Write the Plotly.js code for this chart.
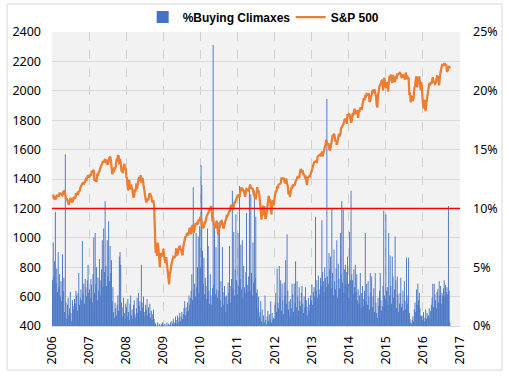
<!DOCTYPE html>
<html><head><meta charset="utf-8">
<script src="https://cdn.plot.ly/plotly-3.0.1.min.js"></script>
<style>html,body{margin:0;padding:0;background:#fff}#chart{width:508px;height:378px}</style>
</head><body><div id="chart"></div>
<script>
// Weekly observations, first week ending 2006-01-06
const firstWeek = '2006-01-06';

// S&P 500 weekly close (left axis)
const sp500 = [
// 2006
1285,1287,1262,1284,1264,1266,1288,1289,1287,1282,1307,1302,1295,1297,1289,1311,1310,1325,1292,1261,1268,1252,1253,1223,1244,1270,1265,1246,1240,1260,1279,1272,1266,1302,1295,1303,1299,1319,1314,1339,1349,1366,1368,1377,1364,1380,1401,1400,1396,1409,1427,1418,
// 2007
1410,1431,1422,1449,1448,1456,1460,1387,1402,1387,1386,1436,1421,1444,1452,1470,1494,1495,1505,1522,1515,1530,1536,1507,1532,1502,1503,1530,1552,1553,1534,1459,1433,1453,1445,1479,1473,1484,1528,1526,1557,1561,1500,1536,1510,1453,1458,1440,1481,1504,1467,1478,
// 2008
1411,1401,1325,1330,1395,1331,1349,1353,1331,1294,1273,1288,1330,1315,1370,1332,1390,1398,1413,1388,1426,1375,1400,1404,1360,1318,1278,1262,1240,1260,1257,1260,1296,1298,1292,1283,1242,1252,1255,1213,1099,899,940,877,968,930,873,800,896,876,879,888,
// 2009
927,870,850,826,869,827,770,735,683,757,769,815,842,857,870,866,867,877,929,882,887,919,940,946,921,918,896,880,940,979,987,1010,1005,1026,1029,1016,1042,1068,1044,1025,1071,1087,1080,1036,1069,1093,1091,1092,1106,1102,1127,1115,
// 2010
1144,1136,1092,1073,1066,1075,1109,1105,1139,1150,1159,1167,1178,1194,1192,1217,1187,1111,1136,1088,1087,1064,1092,1117,1076,1022,1078,1065,1103,1101,1121,1079,1071,1065,1104,1110,1125,1148,1146,1165,1176,1183,1183,1225,1199,1199,1190,1224,1240,1243,1256,1258,
// 2011
1272,1293,1283,1276,1310,1329,1343,1320,1328,1321,1304,1279,1313,1332,1328,1320,1320,1338,1363,1340,1338,1333,1331,1300,1271,1271,1268,1340,1344,1316,1316,1292,1199,1179,1123,1177,1219,1154,1216,1136,1131,1155,1224,1238,1285,1253,1263,1216,1159,1244,1255,1219,
// 2012
1277,1289,1315,1316,1344,1342,1361,1366,1370,1370,1404,1404,1397,1408,1398,1370,1378,1403,1369,1353,1295,1318,1278,1325,1343,1335,1362,1354,1356,1362,1385,1391,1406,1419,1411,1407,1438,1466,1460,1441,1460,1428,1433,1411,1414,1380,1359,1409,1416,1418,1413,1430,
// 2013
1461,1472,1486,1503,1513,1518,1520,1516,1515,1552,1556,1557,1563,1569,1553,1588,1555,1582,1597,1614,1633,1667,1650,1631,1643,1626,1593,1606,1632,1680,1692,1691,1709,1691,1655,1663,1633,1655,1688,1709,1691,1703,1744,1759,1762,1770,1798,1805,1806,1805,1775,1841,
// 2014
1831,1842,1838,1790,1783,1797,1838,1836,1859,1878,1841,1866,1857,1865,1815,1864,1863,1881,1878,1877,1900,1924,1949,1936,1963,1961,1985,1967,1978,1978,1925,1931,1955,1988,1997,2007,1985,2010,1982,1967,1906,1886,1964,2018,2031,2039,2063,2068,2075,2003,2071,2088,
// 2015
2044,2019,2051,2057,1995,2055,2096,2097,2110,2071,2053,2108,2061,2068,2067,2102,2081,2117,2108,2116,2122,2126,2107,2092,2094,2110,2101,2077,2076,2126,2079,2104,2078,2092,1971,1989,1921,1961,1958,1931,1951,2014,2033,2075,2099,2023,2089,2090,2092,2012,2005,2061,
// 2016
1922,1921,1880,1940,1880,1865,1918,1948,1999,2022,2050,2035,2060,2047,2081,2092,2065,2057,2047,2053,2099,2099,2096,2071,2037,2103,2130,2162,2175,2173,2183,2184,2183,2169,2180,2128,2139,2165,2168,2153
];

// % of stocks with buying climaxes, weekly (right axis)
const buyingClimaxPct = [
// 2006
3.9,7.1,4.2,5.5,9.7,3.6,4.9,2.9,6.3,3.3,4.4,2.5,3.8,2.1,6.1,3.0,4.1,1.2,14.6,2.0,0.6,1.8,2.4,0.9,1.5,2.9,1.1,0.4,2.2,1.7,1.4,2.3,1.9,3.0,2.6,1.3,2.8,4.5,1.8,2.4,3.1,2.2,7.2,2.7,3.6,1.9,4.0,3.3,2.5,3.9,5.2,2.8,
// 2007
3.1,2.4,4.0,3.5,2.0,4.4,7.5,2.8,7.9,3.6,5.0,2.2,4.1,3.0,5.7,2.6,3.9,4.8,7.3,3.3,8.3,4.6,10.6,5.1,3.4,7.3,4.2,8.9,3.8,6.8,4.5,5.6,2.1,3.3,1.2,0.7,2.0,1.5,0.9,1.8,2.6,1.3,5.9,6.3,5.2,2.0,0.8,1.6,2.4,1.1,0.6,1.9,
// 2008
1.6,0.8,2.3,1.2,0.5,1.9,2.6,0.9,1.4,0.6,1.8,2.2,1.0,0.7,1.5,2.4,1.1,2.8,1.7,2.1,1.3,5.2,2.0,1.6,2.5,1.2,0.8,1.8,1.4,2.3,0.9,1.6,1.1,1.9,0.7,1.3,0.5,1.0,1.4,0.6,0.3,0.2,0.0,0.1,0.3,0.0,0.2,0.1,0.0,0.2,0.1,0.3,
// 2009
0.1,0.0,0.2,0.0,0.1,0.3,0.0,0.2,0.0,0.1,0.3,0.0,0.4,0.2,0.6,0.1,0.3,0.8,0.2,0.5,0.9,0.3,0.7,1.1,0.4,0.8,1.2,0.6,1.0,1.5,2.1,0.9,1.6,1.2,2.0,1.3,2.6,1.8,2.4,3.0,4.4,2.2,11.8,3.1,3.6,2.5,7.9,3.3,5.0,7.6,2.8,8.5,
// 2010
5.0,13.7,12.0,6.4,3.6,5.8,2.7,4.1,3.4,2.3,8.3,6.8,3.0,1.9,4.4,2.6,1.8,3.2,23.9,3.5,8.6,2.7,6.7,3.1,2.4,8.8,3.0,8.6,2.2,3.8,1.6,6.7,2.9,1.8,3.4,2.5,1.2,2.6,1.9,3.7,2.8,6.8,2.0,3.4,4.0,11.5,3.2,8.0,2.6,4.8,9.5,3.9,
// 2011
2.7,7.9,3.4,11.9,4.0,6.9,3.1,7.3,2.4,5.1,3.3,2.8,4.6,9.6,3.5,2.9,4.2,11.6,3.0,11.2,4.5,2.6,7.1,3.7,11.5,4.1,9.3,2.8,3.1,1.6,2.5,0.8,1.2,2.1,0.4,1.4,0.2,0.9,0.3,2.6,0.5,0.1,0.8,1.3,0.4,1.0,0.6,2.1,0.3,1.1,0.5,0.7,
// 2012
0.6,1.8,2.8,1.2,4.9,2.0,1.5,5.1,2.4,3.9,1.3,3.6,2.2,1.0,3.7,2.6,5.6,1.9,7.8,3.0,1.4,2.1,0.8,2.3,1.5,3.6,2.7,1.2,3.6,2.0,5.5,1.6,3.8,2.5,1.3,3.3,2.1,1.7,2.8,3.4,1.9,1.1,2.5,1.6,3.3,2.2,1.6,0.9,2.4,1.3,1.8,2.6,
// 2013
2.2,3.5,1.8,2.9,3.3,2.5,9.3,3.0,3.9,2.4,4.3,3.1,2.7,4.1,3.4,9.0,4.6,3.8,2.9,5.0,4.1,3.3,19.3,4.2,3.6,6.2,4.8,5.9,3.2,10.0,4.5,2.6,6.5,3.8,3.1,4.9,7.3,2.4,5.3,4.0,3.2,7.9,4.4,10.6,3.7,9.9,2.8,4.8,5.2,3.5,4.6,5.9,
// 2014
3.6,2.4,8.0,3.9,11.5,4.4,3.9,2.7,4.8,3.3,5.2,2.9,4.4,2.2,3.1,1.9,2.6,4.5,1.5,2.8,3.4,1.7,2.3,3.0,7.9,2.1,3.6,1.8,3.8,2.5,1.4,4.5,2.9,4.2,1.6,2.5,3.2,1.2,4.5,2.0,1.1,0.7,2.4,1.7,3.0,4.5,2.2,1.3,1.7,3.4,9.8,2.6,
// 2015
2.3,9.5,3.0,3.3,1.8,7.9,2.6,6.0,3.4,1.9,5.9,4.2,2.4,3.1,7.6,3.9,1.5,4.2,2.7,1.2,1.9,2.8,4.1,1.6,1.9,3.0,1.3,3.8,2.1,1.4,5.8,1.9,2.6,5.8,1.1,0.6,0.3,0.2,0.5,0.8,0.4,1.4,2.0,1.2,3.1,1.8,3.6,2.2,2.8,1.5,0.9,0.8,
// 2016
0.9,0.5,1.2,0.4,0.7,1.4,0.6,1.1,0.8,0.9,1.5,0.7,1.3,1.8,2.4,3.6,1.6,3.6,2.7,2.2,1.5,2.9,3.1,2.0,3.8,2.6,3.4,1.9,2.8,2.6,3.2,3.9,2.5,3.5,2.9,3.3,2.7,10.2,3.0,0.3
];

const yearLabels = ['2006','2007','2008','2009','2010','2011','2012','2013','2014','2015','2016','2017'];
const leftTicks = [400,600,800,1000,1200,1400,1600,1800,2000,2200,2400];
const rightTickVals = [0,2.5,5,7.5,10,12.5,15,17.5,20,22.5,25];
const rightTickText = ['0%','','5%','','10%','','15%','','20%','','25%'];
const thresholdPct = 10;

const DAY_MS = 86400000;
function weekDates(n){
  const t0 = Date.parse(firstWeek + 'T00:00:00Z');
  const out = [];
  for (let i = 0; i < n; i++) out.push(new Date(t0 + i*7*DAY_MS).toISOString().slice(0,10));
  return out;
}
const dates = weekDates(sp500.length);

const traces = [
  {type:'bar', name:'%Buying Climaxes', x:dates, y:buyingClimaxPct, yaxis:'y',
   width:9*DAY_MS,
   marker:{color:'#4472C4', line:{width:0}}},
  {type:'scatter', mode:'lines', name:'S&P 500', x:dates, y:sp500, yaxis:'y2',
   line:{color:'#ED7D31', width:2.25}}
];

const layout = {
  width:508, height:378,
  margin:{l:52, r:48, t:32, b:52, pad:0, autoexpand:false},
  paper_bgcolor:'#ffffff', plot_bgcolor:'#f2f2f2',
  font:{family:'Noto Sans, sans-serif', size:12.5, color:'#000'},
  showlegend:true,
  legend:{orientation:'h', x:0.585, xanchor:'center', y:1.051, yanchor:'middle',
          font:{family:'Liberation Sans, sans-serif', size:12, weight:'bold', color:'#000'},
          bgcolor:'rgba(0,0,0,0)', traceorder:'normal', entrywidth:103, entrywidthmode:'pixels'},
  xaxis:{type:'date', range:['2006-01-01','2017-01-01'],
         tickvals:yearLabels.map(y => y + '-01-01'), ticktext:yearLabels,
         tickangle:-90, showgrid:true, gridcolor:'#d0d0d0', griddash:'dash', gridwidth:1,
         showline:true, linecolor:'#d9d9d9', ticks:'', zeroline:false, ticklabelstandoff:4},
  yaxis:{side:'right', range:[0,25], tickvals:rightTickVals, ticktext:rightTickText,
         showgrid:true, gridcolor:'#d9d9d9', zeroline:false, ticks:'', ticklabelstandoff:12},
  yaxis2:{overlaying:'y', side:'left', range:[400,2400], tickvals:leftTicks,
          showgrid:false, zeroline:false, ticks:'', ticklabelstandoff:10},
  shapes:[
    {type:'line', xref:'paper', x0:0, x1:1, yref:'y', y0:thresholdPct, y1:thresholdPct,
     line:{color:'#ff0000', width:1.5}, layer:'above'},
    {type:'rect', xref:'paper', yref:'paper', x0:-0.110, x1:1.103, y0:-0.150, y1:1.095,
     line:{color:'#d9d9d9', width:1}, fillcolor:'rgba(0,0,0,0)', layer:'below'}
  ]
};

Plotly.newPlot('chart', traces, layout, {staticPlot:true, displayModeBar:false});
</script>
</body></html>
